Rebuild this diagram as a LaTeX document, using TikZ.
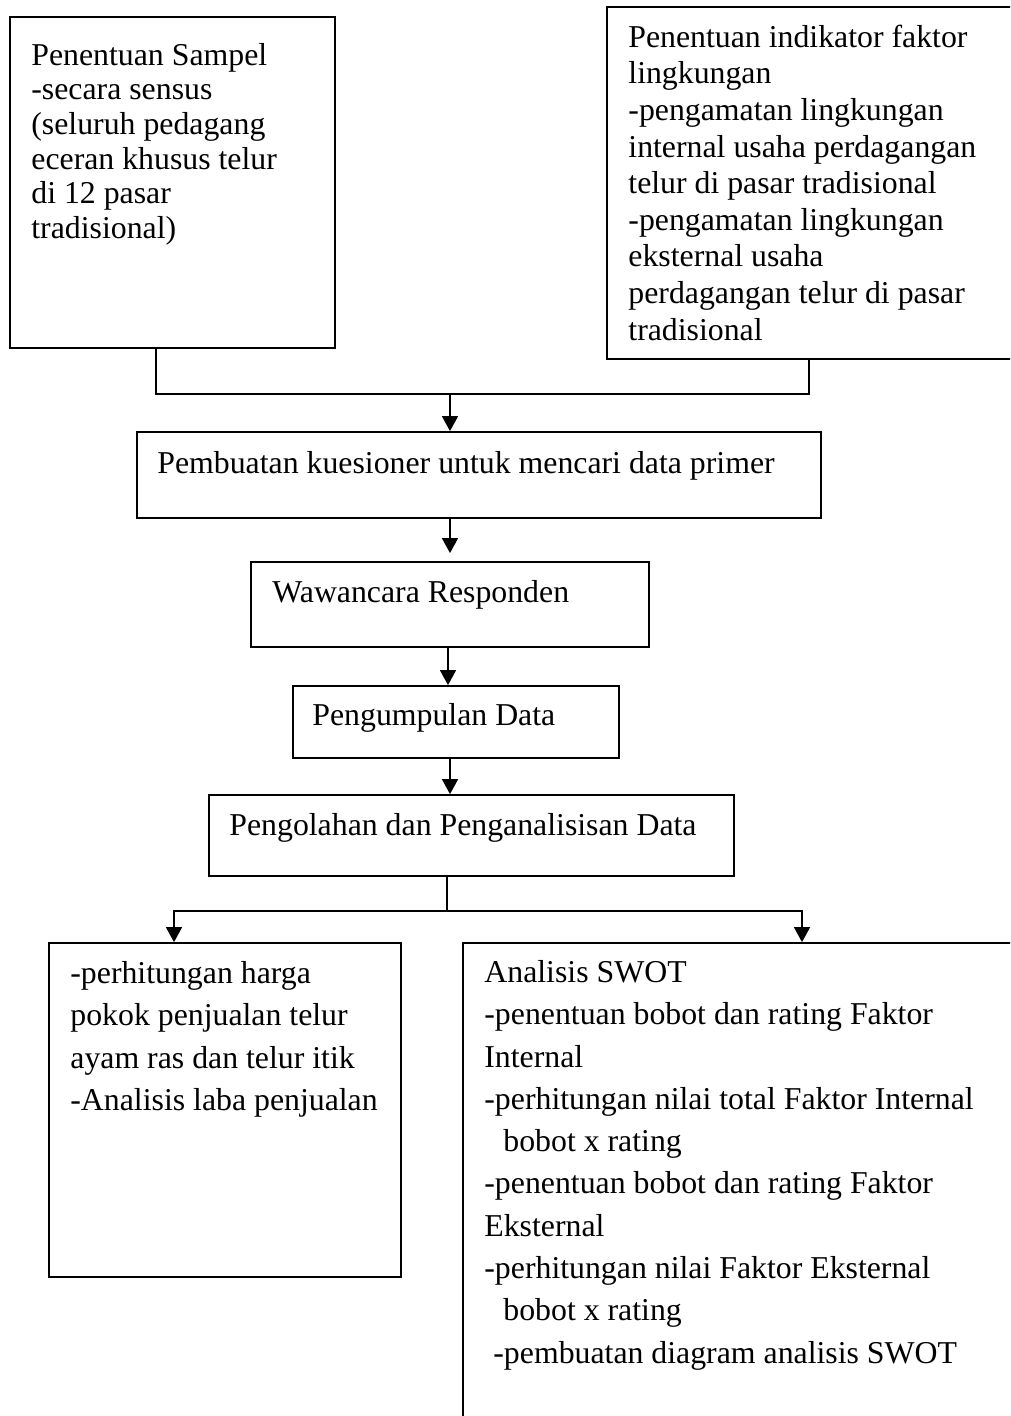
\documentclass[tikz,border=0pt]{standalone}
\usepackage{fontspec}
\setmainfont{Liberation Serif}
\usetikzlibrary{arrows.meta,fit}
\begin{document}
\begin{tikzpicture}[x=0.5pt,y=-0.5pt,
  box/.style={draw, line width=0.9pt, inner sep=0pt, rectangle},
  lbl/.style={inner sep=0pt, anchor=north west, align=left},
  fa/.style={font=\fontsize{15.9pt}{17.3pt}\selectfont},
  fb/.style={font=\fontsize{15.9pt}{18.3pt}\selectfont},
  fc/.style={font=\fontsize{15.9pt}{21.15pt}\selectfont},
  conn/.style={line width=0.8pt},
  arr/.style={line width=0.8pt, -{Triangle[length=7.5pt,width=8pt]}}]
\useasboundingbox (0,0) rectangle (1010,1416);
\clip (0,0) rectangle (1010,1416);
\fill[white] (0,0) rectangle (1010,1416);

% boxes
\node[box, fit={(10,17) (335,348)}] (b1) {};
\node[box, fit={(607,7) (1040,359)}] (b2) {};
\node[box, fit={(137,432) (821,518)}] (b3) {};
\node[box, fit={(251,562) (649,647)}] (b4) {};
\node[box, fit={(293,686) (619,758)}] (b5) {};
\node[box, fit={(209,795) (734,876)}] (b6) {};
\node[box, fit={(49,943) (401,1277)}] (b7) {};
\node[box, fit={(463,943) (1040,1450)}] (b8) {};

% texts
\node[lbl, fa] (t1) at (31,41) {\rule{0pt}{12pt}Penentuan Sampel\\-secara sensus\\(seluruh pedagang\\eceran khusus telur\\di 12 pasar\\tradisional)};
\node[lbl, fb] (t2) at (628,23) {\rule{0pt}{12pt}Penentuan indikator faktor\\lingkungan\\-pengamatan lingkungan\\internal usaha perdagangan\\telur di pasar tradisional\\-pengamatan lingkungan\\eksternal usaha\\perdagangan telur di pasar\\tradisional};
\node[lbl, fb] (t3) at (157,449) {\rule{0pt}{12pt}Pembuatan kuesioner untuk mencari data primer};
\node[lbl, fb] (t4) at (272,578) {\rule{0pt}{12pt}Wawancara Responden};
\node[lbl, fb] (t5) at (312,701) {\rule{0pt}{12pt}Pengumpulan Data};
\node[lbl, fb] (t6) at (229,811) {\rule{0pt}{12pt}Pengolahan dan Penganalisisan Data};
\node[lbl, fc] (t7) at (70,959) {\rule{0pt}{12pt}-perhitungan harga\\pokok penjualan telur\\ayam ras dan telur itik\\-Analisis laba penjualan};
\node[lbl, fc] (t8) at (484,958) {\rule{0pt}{12pt}Analisis SWOT\\-penentuan bobot dan rating Faktor\\Internal\\-perhitungan nilai total Faktor Internal\\\hspace*{9.5pt}bobot x rating\\-penentuan bobot dan rating Faktor\\Eksternal\\-perhitungan nilai Faktor Eksternal\\\hspace*{9.5pt}bobot x rating\\\hspace*{4.5pt}-pembuatan diagram analisis SWOT};

% connectors
\coordinate (k1) at (156,394);
\coordinate (k2) at (809,394);
\coordinate (k3) at (450,394);
\draw[conn] (b1.south -| k1) -- (k1) -- (k2) -- (b2.south -| k2);
\draw[arr] (k3) -- (b3.north -| k3);
\draw[arr, shorten >=4pt] (b3.south -| b4.north) -- (b4.north);
\coordinate (k4) at (448,650);
\draw[arr] (b4.south -| k4) -- (b5.north -| k4);
\coordinate (k5) at (450,770);
\draw[arr] (b5.south -| k5) -- (b6.north -| k5);
\coordinate (s) at (447,911);
\coordinate (sl) at (174,911);
\coordinate (sr) at (802,911);
\draw[conn] (b6.south -| s) -- (s);
\draw[arr] (s) -| (b7.north -| sl);
\draw[arr] (s) -| (b8.north -| sr);
\end{tikzpicture}
\end{document}
